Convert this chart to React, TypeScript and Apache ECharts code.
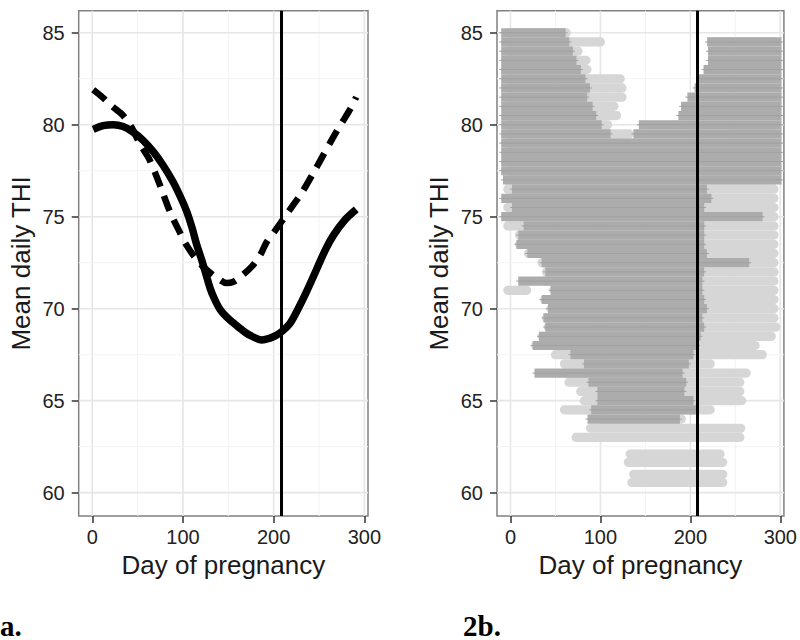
import React, { useEffect, useRef } from "react";
import * as echarts from "echarts";

const FONT = '"Liberation Sans", Arial, sans-serif';

const DAY_TICKS = [0, 100, 200, 300];
const DAY_MINOR = [50, 150, 250];
const THI_TICKS = [60, 65, 70, 75, 80, 85];
const THI_MINOR = [62.5, 67.5, 72.5, 77.5, 82.5];
const X_RANGE = [-15, 304];
const Y_RANGE = [58.73, 86.2];
const PARTURITION_DAY = 208;
const BAND_H = 0.5;

// [day, THI]
const solidCurve = [
  [1, 79.75], [12, 79.95], [23, 80.0], [34, 79.9], [45, 79.6], [56, 79.15], [67, 78.55],
  [78, 77.8], [89, 76.9], [97, 76.1], [104, 75.3], [110, 74.4], [115, 73.5], [120, 72.75],
  [124, 72.1], [130, 71.1], [135, 70.5], [141, 69.95], [148, 69.55], [155, 69.25],
  [165, 68.85], [174, 68.55], [187, 68.3], [196, 68.4], [203, 68.55], [210, 68.8],
  [218, 69.2], [227, 70.0], [236, 70.9], [247, 72.1], [257, 73.2], [266, 74.0],
  [278, 74.8], [291, 75.4],
];

const dashedCurve = [
  [1, 81.9], [11, 81.5], [22, 81.0], [34, 80.5], [44, 79.8], [52, 79.0], [62, 78.2],
  [70, 77.3], [77, 76.4], [83, 75.6], [89, 74.9], [96, 74.2], [102, 73.6], [113, 72.8],
  [124, 72.2], [137, 71.7], [148, 71.4], [155, 71.45], [165, 71.8], [176, 72.3],
  [185, 72.9], [192, 73.6], [201, 74.2], [211, 74.9], [221, 75.6], [231, 76.3],
  [244, 77.4], [253, 78.2], [262, 79.0], [270, 79.7], [277, 80.25], [285, 80.9], [291, 81.5],
];

// [THI, first day, last day] rows of "+" points
const crossBands = [
  [85.0, -7, 58], [84.5, -7, 62], [84.5, 222, 298], [84.0, -7, 66], [84.0, 223, 298],
  [83.5, -7, 70], [83.5, 223, 298], [83.0, -7, 75], [83.0, 218, 298], [82.5, -7, 80],
  [82.5, 212, 298], [82.0, -7, 85], [82.0, 208, 298], [81.5, -7, 82], [81.5, 200, 298],
  [81.0, -7, 88], [81.0, 193, 298], [80.5, -7, 92], [80.5, 190, 298], [80.0, -7, 98],
  [80.0, 146, 298], [79.5, -7, 108], [79.5, 140, 298], [79.0, -7, 298], [78.5, -7, 298],
  [78.0, -7, 298], [77.5, -7, 298], [77.0, -5, 298], [76.5, 5, 215], [76.0, -7, 220],
  [75.5, 5, 212], [75.0, -7, 277], [74.5, 18, 212], [74.0, 12, 212], [73.5, 10, 212],
  [73.0, 22, 215], [72.5, 38, 262], [72.0, 42, 212], [71.5, 12, 210], [71.0, 48, 210],
  [70.5, 38, 212], [70.0, 45, 215], [69.5, 40, 210], [69.0, 42, 212], [68.5, 35, 208],
  [68.0, 28, 205], [67.5, 70, 200], [67.0, 85, 195], [66.5, 30, 188], [66.0, 90, 192],
  [65.5, 100, 190], [65.0, 100, 200], [64.5, 93, 203], [64.0, 89, 185],
];

// [THI, first day, last day] rows of circle points
const circleBands = [
  [85.0, -3, 62], [84.5, -3, 100], [84.5, 224, 293], [84.0, -3, 75], [83.5, -3, 84],
  [83.0, -3, 85], [82.5, -3, 122], [82.0, -3, 124], [81.5, -3, 124], [81.0, -3, 115],
  [80.5, -3, 118], [80.0, -3, 108], [79.5, -3, 132], [79.5, 245, 293], [79.0, -3, 293],
  [78.5, -3, 293], [78.0, -3, 293], [77.5, -3, 293], [77.0, -3, 293], [76.5, -3, 293],
  [76.0, -3, 293], [75.5, -3, 293], [75.0, -3, 293], [74.5, -3, 293], [74.0, 10, 293],
  [73.5, 10, 293], [73.0, 20, 293], [72.5, 35, 293], [72.0, 40, 293], [71.5, 40, 293],
  [71.0, -3, 18], [71.0, 48, 293], [70.5, 38, 293], [70.0, 45, 293], [69.5, 40, 293],
  [69.0, 42, 295], [68.5, 35, 290], [68.0, 28, 272], [67.5, 50, 280], [67.0, 60, 222],
  [66.5, 60, 262], [66.0, 65, 255], [65.5, 78, 255], [65.0, 82, 257], [64.5, 60, 222],
  [64.0, 100, 190], [63.5, 89, 256], [63.0, 73, 255], [62.1, 133, 233], [61.65, 131, 236],
  [61.0, 137, 236], [60.55, 135, 236],
];

function gridLineData() {
  const d: number[][] = [];
  DAY_TICKS.forEach((v) => d.push([v, 0, 1]));
  DAY_MINOR.forEach((v) => d.push([v, 0, 0]));
  THI_TICKS.forEach((v) => d.push([v, 1, 1]));
  THI_MINOR.forEach((v) => d.push([v, 1, 0]));
  return d;
}

function gridLineSeries(idx: number) {
  return {
    type: "custom",
    xAxisIndex: idx,
    yAxisIndex: idx,
    z: 0,
    silent: true,
    data: gridLineData(),
    encode: { x: 0, y: 0 },
    renderItem: (params: any, api: any) => {
      const v = api.value(0);
      const horiz = api.value(1) === 1;
      const major = api.value(2) === 1;
      const cs = params.coordSys;
      const stroke = major ? "#e6e6e6" : "#f3f3f3";
      const lw = major ? 1.6 : 1;
      if (horiz) {
        const y = api.coord([0, v])[1];
        return { type: "line", shape: { x1: cs.x, y1: y, x2: cs.x + cs.width, y2: y }, style: { stroke, lineWidth: lw } };
      }
      const x = api.coord([v, 0])[0];
      return { type: "line", shape: { x1: x, y1: cs.y, x2: x, y2: cs.y + cs.height }, style: { stroke, lineWidth: lw } };
    },
  };
}

function bandSeries(data: number[][], kind: "cross" | "circle") {
  return {
    type: "custom",
    xAxisIndex: 1,
    yAxisIndex: 1,
    z: kind === "cross" ? 3 : 2,
    silent: true,
    clip: true,
    data,
    encode: { x: [1, 2], y: 0 },
    renderItem: (_params: any, api: any) => {
      const thi = api.value(0);
      const a = api.coord([api.value(1), thi]);
      const b = api.coord([api.value(2), thi]);
      const h = Math.abs(api.size([0, BAND_H])[1]);
      if (kind === "circle") {
        const r = h / 2;
        return {
          type: "rect",
          shape: { x: a[0] - r, y: a[1] - r, width: b[0] - a[0] + 2 * r, height: h, r },
          style: { fill: "#d6d6d6" },
        };
      }
      return {
        type: "group",
        children: [
          {
            type: "rect",
            shape: { x: a[0] - 3, y: a[1] - h / 2, width: b[0] - a[0] + 6, height: h },
            style: { fill: "#acacac" },
          },
          {
            type: "line",
            shape: { x1: a[0] - 5, y1: a[1], x2: b[0] + 5, y2: a[1] },
            style: { stroke: "#a0a0a0", lineWidth: 1 },
          },
        ],
      };
    },
  };
}

function xAxisCfg(gridIndex: number) {
  return {
    type: "value",
    gridIndex,
    min: X_RANGE[0],
    max: X_RANGE[1],
    name: "Day of pregnancy",
    nameLocation: "middle",
    nameGap: 30,
    nameTextStyle: { fontSize: 26, color: "#1a1a1a", fontFamily: FONT },
    axisLine: { show: false, onZero: false },
    axisTick: { show: true, customValues: DAY_TICKS, length: 7, lineStyle: { color: "#333", width: 1.5 } },
    axisLabel: { customValues: DAY_TICKS, fontSize: 20, color: "#222", fontFamily: FONT, margin: 11 },
    splitLine: { show: false },
  };
}

function yAxisCfg(gridIndex: number) {
  return {
    type: "value",
    gridIndex,
    min: Y_RANGE[0],
    max: Y_RANGE[1],
    name: "Mean daily THI",
    nameLocation: "middle",
    nameGap: 45,
    nameTextStyle: { fontSize: 26, color: "#1a1a1a", fontFamily: FONT },
    axisLine: { show: false, onZero: false },
    axisTick: { show: true, customValues: THI_TICKS, length: 7, lineStyle: { color: "#333", width: 1.5 } },
    axisLabel: { customValues: THI_TICKS, fontSize: 20, color: "#222", fontFamily: FONT, margin: 14 },
    splitLine: { show: false },
  };
}

function vlineSeries(idx: number) {
  return {
    type: "line",
    xAxisIndex: idx,
    yAxisIndex: idx,
    data: [],
    z: 5,
    markLine: {
      silent: true,
      symbol: "none",
      label: { show: false },
      lineStyle: { color: "#000", width: 3, type: "solid" },
      data: [{ xAxis: PARTURITION_DAY }],
    },
  };
}

export default function App() {
  const ref = useRef<HTMLDivElement>(null);
  useEffect(() => {
    if (!ref.current) return;
    const chart = echarts.init(ref.current, null, { renderer: "svg" });
    chart.setOption({
      animation: false,
      backgroundColor: "#fff",
      grid: [
        { left: 78.7, top: 10.7, width: 289.3, height: 505.3, show: true, borderColor: "#808080", borderWidth: 1.5, backgroundColor: "transparent", containLabel: false },
        { left: 497, top: 10.7, width: 289.7, height: 505.3, show: true, borderColor: "#808080", borderWidth: 1.5, backgroundColor: "transparent", containLabel: false },
      ],
      xAxis: [xAxisCfg(0), xAxisCfg(1)],
      yAxis: [yAxisCfg(0), yAxisCfg(1)],
      series: [
        gridLineSeries(0),
        gridLineSeries(1),
        {
          type: "line",
          xAxisIndex: 0,
          yAxisIndex: 0,
          data: dashedCurve,
          smooth: 0.3,
          showSymbol: false,
          z: 3,
          lineStyle: { color: "#000", width: 6.5, type: [16, 10], cap: "butt" },
        },
        {
          type: "line",
          xAxisIndex: 0,
          yAxisIndex: 0,
          data: solidCurve,
          smooth: 0.3,
          showSymbol: false,
          z: 3,
          lineStyle: { color: "#000", width: 7.5 },
        },
        bandSeries(circleBands, "circle"),
        bandSeries(crossBands, "cross"),
        vlineSeries(0),
        vlineSeries(1),
      ],
      graphic: [
        { type: "text", x: 0, y: 611, style: { text: "a.", font: 'bold 29px "Liberation Serif", "Times New Roman", serif', fill: "#000", verticalAlign: "top" } },
        { type: "text", x: 463, y: 611, style: { text: "2b.", font: 'bold 29px "Liberation Serif", "Times New Roman", serif', fill: "#000", verticalAlign: "top" } },
      ],
    });
    return () => chart.dispose();
  }, []);
  return <div ref={ref} style={{ position: "fixed", left: 0, top: 0, width: 800, height: 640 }} />;
}
